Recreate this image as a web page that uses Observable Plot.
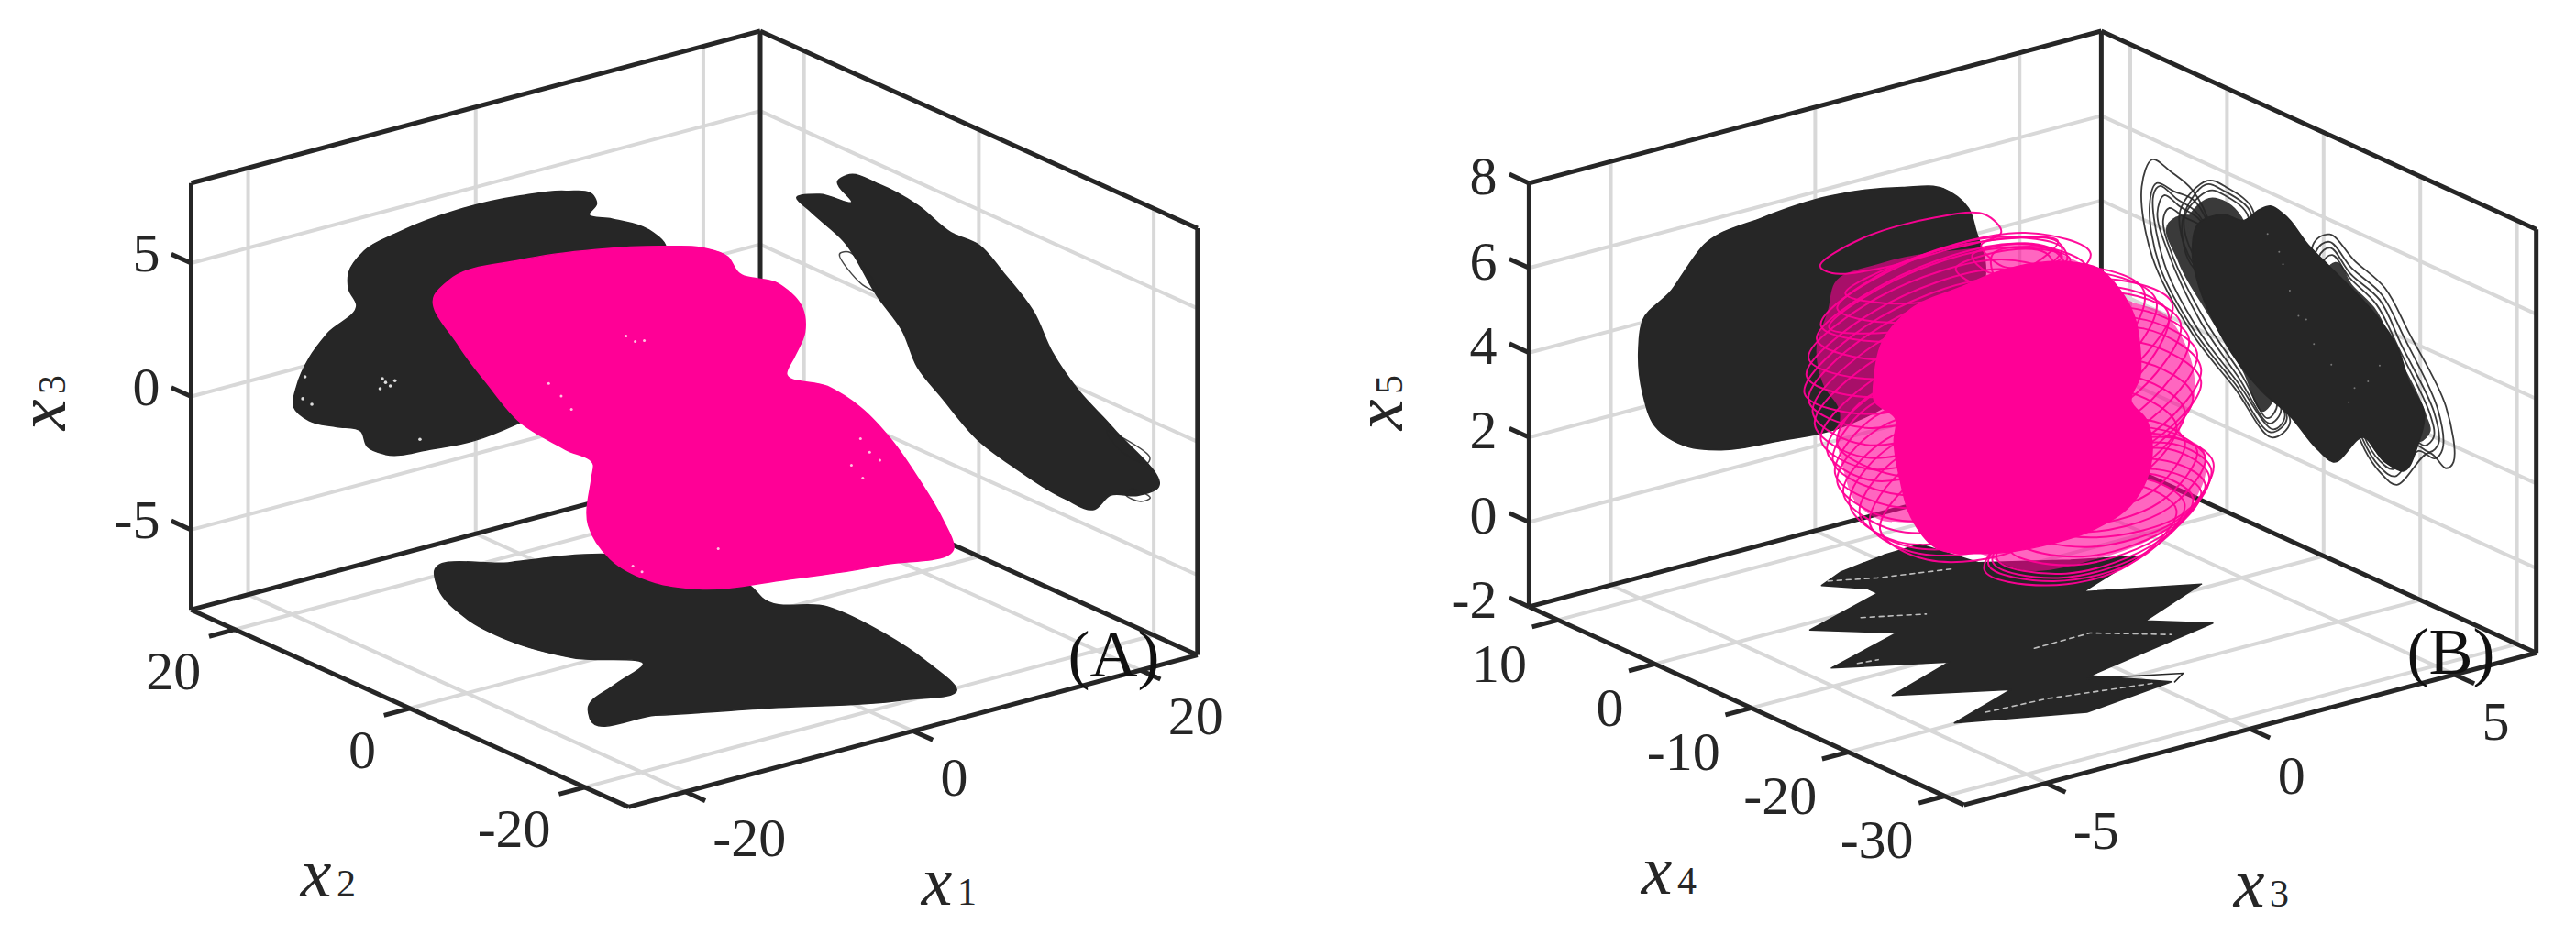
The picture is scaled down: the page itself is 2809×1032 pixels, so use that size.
<!DOCTYPE html>
<html>
<head>
<meta charset="utf-8">
<script src="https://cdn.jsdelivr.net/npm/d3@7"></script>
<script src="https://cdn.jsdelivr.net/npm/@observablehq/plot@0.6"></script>
<style>html,body{margin:0;padding:0;background:#fff}svg{display:block}</style>
</head>
<body>
<div id="chart"></div>
<script>
// ---------- tick values ----------
const ticksAx1 = [-20, 0, 20], ticksAx2 = [-20, 0, 20], ticksAx3 = [-5, 0, 5];
const ticksBx3 = [-5, 0, 5], ticksBx4 = [-30, -20, -10, 0, 10], ticksBx5 = [-2, 0, 2, 4, 6, 8];

// ---------- panel A projections onto the walls ----------
const aWallX1X3 = [[10.35,3.49],[10.62,3.17],[9.95,2.85],[11.96,2.44],[15.18,1.67],[16.66,.93],[16.52,.15],[15.8,-1.11],[8.6,-3.69],[3.63,-4.29],[-.13,-4.49],[-4.15,-4.37],[-7.92,-4.12],[-9.53,-3.64],[-10.07,-3.01],[-12.21,-2.59],[-14.63,-2.09],[-15.98,-1.42],[-15.71,-.65],[-14.63,.26],[-13.02,1],[-10.47,1.79],[-11.14,2.44],[-11.14,3.07],[-9.79,3.72],[-6.84,4.07],[-1.47,4.32],[3.9,4.22],[7.93,3.94]];
const aWallX2X3 = [[20.83,2.37],[18.2,2.88],[14.53,3.14],[16.11,3.7],[15.06,4.06],[11.21,4.26],[7.02,4.13],[3.17,3.67],[.02,3.68],[-2.77,3.06],[-6.27,2.09],[-8.37,.91],[-11.51,-.12],[-15.35,-.92],[-20.25,-2.49],[-18.15,-3.03],[-15.01,-3.49],[-13.25,-4.27],[-9.76,-4.38],[-4.17,-4.07],[.02,-3.66],[4.22,-2.67],[7.02,-1.94],[8.77,-.82],[11.56,.02],[15.4,1.52],[19.25,2.09]];
const aFloorX1X2 = [[-7.15,20.42],[-1.76,19.01],[4.7,16.18],[7.87,11.89],[8.62,4.44],[7.97,2.65],[10.47,-1.58],[10.32,-8.33],[9.26,-14.39],[7.43,-20.33],[3.1,-19.59],[-4.56,-15.53],[-12.29,-11.55],[-16.28,-9.25],[-15.27,-7.73],[-10.86,-5],[-6.85,-3.05],[-9.8,1.06],[-11.21,6.72],[-10.88,11.83],[-8.78,17.84]];
// silhouette of the trajectory, given in the plane x2 = 0
const aTrajX1X3 = [[-22.83,7.24],[-21.49,7.67],[-15.31,7.71],[-8.59,7.34],[-2.41,6.75],[.81,6.32],[2.95,5.74],[3.8,5.09],[7.4,4.23],[9.5,3.07],[9.7,2.14],[8.8,1.35],[8.1,.79],[11.7,-.11],[14.6,-1.23],[17.4,-2.81],[19.6,-4.41],[21.8,-6.24],[22.8,-7.38],[16.7,-7.36],[8.1,-6.94],[.2,-6.38],[-3.4,-5.74],[-7.4,-4.39],[-9.3,-2.92],[-9,-1.14],[-8.86,-.71],[-11.28,.14],[-15.31,1.63],[-18.26,3.45],[-20.68,5.11]];
const aWallStrays = [
  [[15.93,.98],[14.7,1.22],[11.56,.25],[13.31,.22]],
  [[-14.65,-1.14],[-19.55,-1.39],[-19.2,-1.67],[-16.05,-1.62]],
  [[-17.4,-2.9],[-19.6,-2.9],[-18.5,-3.2],[-16.8,-3.2]]
];
const aSpecksX1X3 = [[-7.92,-1.42],[-8.2,-1.25],[-7.5,-1.6],[-7.1,-1.45],[-8.4,-1.6],[-15,-.4],[-15.2,-1.2],[-14.4,-1.5],[-4.9,-3.9]];
const aTrajSpecks = [[14.6,-2.4],[15.4,-3],[16.3,-3.4],[13.8,-3.3],[14.8,-3.9],[-11.7,2.2],[-12.8,2.8],[-10.8,1.6],[-5.4,-4.9],[-4.6,-5.2],[2.1,-5.1],[-6,3.8],[-5.2,3.5],[-4.4,3.45]];

// ---------- panel B projections onto the walls ----------
const bWallX3X5 = [[2.13,5.56],[3.14,5.27],[3.75,4.65],[3.95,4.02],[4.15,3.33],[3.14,1.17],[1.53,.44],[.52,.27],[-.89,.35],[-2.3,.5],[-3.11,.78],[-3.92,1.48],[-4.22,2.34],[-4.32,3.37],[-4.22,4.05],[-3.51,4.58],[-3.11,5.05],[-2.71,5.45],[-1.29,5.72],[.32,5.81]];
const bWallCoreX4X5 = [[-3.36,5.49],[-4.47,5.69],[-5.89,5.64],[-8.42,5.18],[-10.63,4.9],[-13.17,4.59],[-15.69,4.21],[-17.59,3.75],[-18.86,3.02],[-20.43,2.46],[-19.81,1.68],[-18.22,.86],[-16.33,.88],[-14.12,1.23],[-10.95,.32],[-9.37,.45],[-6.53,.94],[-3.68,1.22],[-.83,1.72],[1.39,2.36],[2.96,3.06],[3.6,3.79],[2.96,4.5],[.44,4.98],[-1.78,5.07]];
const bWallSpecksX4X5 = [[-5.4,4.7],[-5.8,4.45],[-6.5,3.9],[-8.2,3.4],[-9,2.9],[-10.8,2.6],[-13.2,2.3],[-14.6,2.6],[-15.8,3.1],[-4.2,5],[-7.4,3.4],[-12.6,1.9]];
const bWallDense = [
  [[6,4.2],[5.3,4.4],[3.8,4.6],[2,4.2],[.2,3.5],[-1,2],[-4.9,1.2],[-3.9,.8],[-1.7,1.5],[2,2.5],[5,3.4]],
  [[4,4.5],[1.5,5.25],[.1,5.3],[-1.8,5],[-.3,3.7],[2.8,3.8]],
  [[-10.2,4.8],[-11.2,5.05],[-12.9,4.7],[-15.2,4.4],[-17.4,3.6],[-20.6,2.4],[-21,2.1],[-20,1.75],[-18.6,1.8],[-16.8,1.1],[-15.5,1.15],[-14.3,1.5]]
];
const bWallLoopsX4X5 = [
  [[8.82,4.76],[7.71,5.52],[5.81,5.43],[3.6,5.23],[1.7,4.56],[.44,2.46],[-6.53,.8],[-4.63,.24],[-.83,1],[3.6,1.84],[7.71,3.21]],
  [[8,4.4],[7.3,5],[5.4,5],[3.4,5],[1.4,4.3],[.2,2.4],[-6.2,.85],[-4.5,.35],[-.9,1.1],[3.3,1.9],[7,3.1]],
  [[7.6,4.7],[6.9,4.98],[5.2,4.85],[3.2,4.75],[1.2,4.1],[0,2.3],[-6,.9],[-4.8,.45],[-1,1.2],[3,2],[6.5,3.2]],
  [[7.2,4.3],[6.5,4.8],[4.8,4.7],[2.8,4.6],[.9,3.9],[-.4,2.2],[-5.6,1],[-4.4,.55],[-1.2,1.3],[2.7,2.2],[6.1,3.5]],
  [[6.6,4.2],[6,4.55],[4.4,4.5],[2.4,4.45],[.5,3.7],[-.8,2.1],[-5.2,1.1],[-4.2,.65],[-1.5,1.4],[2.3,2.3],[5.7,3.5]],
  [[4.86,4.59],[2.02,5.61],[.12,5.66],[-2.73,5.38],[-.83,3.31],[3.28,3.46]],
  [[4.6,4.4],[2.2,5.5],[.4,5.55],[-2.5,5.3],[-.9,3.6],[3.4,3.4]],
  [[4.4,4.5],[1.8,5.4],[.2,5.45],[-2.2,5.2],[-.6,3.5],[3,3.6]],
  [[-8.9,5.23],[-10.63,5.66],[-13.17,5.31],[-16.33,4.99],[-18.86,4.18],[-22.66,2.84],[-23.44,1.62],[-22.66,1.39],[-20.91,1.57],[-17.59,.47],[-16.01,.56],[-13.95,1.07]],
  [[-9.2,5.1],[-10.6,5.48],[-12.9,5.1],[-16,4.8],[-18.4,4],[-21.8,2.7],[-22.3,1.8],[-21.5,1.5],[-19.8,1.5],[-17.4,.65],[-15.9,.7],[-14,1.2]],
  [[-9.5,5],[-10.7,5.35],[-12.8,4.95],[-15.8,4.65],[-18.1,3.8],[-21.4,2.6],[-21.9,1.9],[-21,1.6],[-19.4,1.6],[-17.2,.8],[-15.8,.85],[-14.1,1.3]],
  [[-9.9,4.9],[-10.9,5.2],[-12.7,4.85],[-15.5,4.5],[-17.8,3.7],[-21,2.5],[-21.4,2],[-20.5,1.7],[-19,1.7],[-17,.95],[-15.7,1],[-14.2,1.4]]
];
const bFloorX3X4 = [[-1.76,4.9],[-1,6.12],[.23,6.89],[1.16,7.06],[1.44,2.2],[2.95,-.93],[4.17,-3.03],[2.08,-5.97],[4.16,-9.37],[2.05,-12.51],[3.01,-15.41],[-.67,-18.28],[.38,-22.26],[-1.96,-23.4],[-4.37,-19.88],[-2.36,-17.25],[-4.4,-13.57],[-2.38,-10.94],[-4.41,-7.31],[-2.21,-4.77],[-3.45,-1.03],[-1.16,1.67],[-1.16,2.7]];
const bFloorGaps = [
  [[-1.51,5.3],[-.64,3.87],[.83,2.3]],
  [[-2.24,-1.2],[-1.11,-3.18]],
  [[-.6,-12.21],[.78,-12.14],[1.99,-15.48]],
  [[-3.53,-19.53],[-2.11,-19.93],[.03,-21.74]],
  [[-3.85,-7.65],[-3.4,-7.9]]
];
const bFloorThin = [[-.82,-18.58],[.85,-21.48],[.43,-22.38]];
// trajectory in panel B, silhouette and loops, given in the plane x4 = -10
const bTrajCoreX3X5 = [[-.1,6.73],[.79,6.54],[1.47,6.22],[2.03,5.54],[2.36,4.88],[2.51,4.04],[2.51,3.39],[2.29,2.87],[2.66,2.34],[2.81,1.59],[2.66,.9],[2.29,.42],[1.39,.07],[.27,0],[-1.3,.19],[-2.5,.64],[-3.1,1.52],[-3.36,2.45],[-3.51,3.42],[-3.47,3.92],[-3.99,4.48],[-3.99,5.06],[-3.84,5.74],[-3.1,6.42],[-1.9,6.62],[-1,6.75]];
const bTrajMeshX3X5 = [[-4.97,7.51],[-3.84,7.69],[-1.45,7.44],[-.1,7.2],[.57,6.78],[1.39,6.17],[2.14,5.33],[3.15,4.67],[3.6,3.91],[3.82,2.48],[3.49,1.84],[4.08,1.22],[4.12,.74],[3.82,.1],[3.3,-.31],[1.39,-.65],[-.48,-.39],[-1.22,.09],[-3.1,1.37],[-3.84,1.63],[-4.48,2.26],[-4.74,3.02],[-4.89,3.71],[-4.85,4.49],[-5.23,5.16],[-5.41,6.08],[-5.12,6.94]];
const bTrajLoops = [
  [[-5.32,8.01],[-4.31,8.39],[-2.5,8.43],[-1.29,8.19],[-.89,7.66],[-2.3,7.59],[-3.91,7.58],[-5.02,7.76]],
  [[-1.38,7.49],[-.4,7.42],[.49,7.09],[.72,6.6],[-.1,6.66],[-.85,6.85]],
  [[-1.6,7.3],[-.5,7.3],[.3,7],[.6,6.7],[-.3,6.6],[-1.2,6.8]],
  [[-2,7.1],[-.7,7.2],[.2,6.9],[.4,6.5],[-.5,6.5],[-1.5,6.6]],
  [[-1.1,7.2],[-.2,7.15],[.45,6.85],[.65,6.5],[-.2,6.4],[-1,6.6]],
  [[1.3,6.6],[-.3,7.5],[-3.6,7.5],[-5.3,6.6],[-3.7,5.8],[-.4,5.7]],
  [[.8,6],[-.8,7],[-3.9,6.9],[-5.6,5.9],[-4,5],[-.8,5.1]],
  [[1,5.4],[-1,6.6],[-4.2,6.3],[-5.7,5.1],[-4.1,4.2],[-1,4.4]],
  [[.6,6.9],[-1.1,7.6],[-3.4,7.5],[-4.9,6.9],[-3.5,6.2],[-.9,6.2]],
  [[1.1,4.8],[-.9,6.1],[-4,5.8],[-5.5,4.6],[-4.2,3.5],[-1.1,3.6]],
  [[.5,4.1],[-1.2,5.2],[-4,5],[-5.3,3.9],[-4.1,2.9],[-1.3,3]],
  [[1.2,6.3],[-.5,7.3],[-3.7,7.2],[-5.4,6.3],[-3.8,5.4],[-.6,5.4]],
  [[.9,5.7],[-.9,6.8],[-4,6.6],[-5.65,5.5],[-4.1,4.6],[-.9,4.7]],
  [[1,5.1],[-.9,6.4],[-4.1,6.1],[-5.6,4.9],[-4.2,3.9],[-1,4]],
  [[.7,4.5],[-1.1,5.7],[-4.1,5.4],[-5.45,4.3],[-4.2,3.2],[-1.2,3.3]],
  [[.4,3.8],[-1.3,4.9],[-3.9,4.7],[-5.15,3.6],[-4,2.6],[-1.4,2.7]],
  [[.8,6.6],[-.9,7.3],[-3.5,7.2],[-5.1,6.5],[-3.6,6],[-.8,5.9]],
  [[.5,7.1],[-1.2,7.55],[-3.1,7.6],[-4.7,7.2],[-3.3,6.6],[-.8,6.5]],
  [[2.6,5.4],[.9,6.4],[-1.7,6.2],[-2.8,4.8],[-1,3.6],[1.6,3.8]],
  [[3.5,4.4],[2,5.5],[-.5,5.6],[-2,4.3],[-.4,2.8],[2.2,2.9]],
  [[4,3.2],[2.6,4.5],[0,4.7],[-1.6,3.3],[0,2],[2.6,1.9]],
  [[3.8,2.6],[2.4,3.8],[-.2,4],[-1.8,2.6],[.1,1.5],[2.5,1.5]],
  [[3.3,4.9],[1.7,5.9],[-.9,5.9],[-2.4,4.6],[-.6,3.2],[1.9,3.4]],
  [[2.9,5.1],[1.2,6.2],[-1.3,6.1],[-2.6,4.7],[-.8,3.4],[1.8,3.6]],
  [[3.2,4.7],[1.8,5.7],[-.7,5.75],[-2.2,4.4],[-.5,3],[2,3.1]],
  [[3.7,4],[2.2,5.1],[-.2,5.2],[-1.8,3.9],[-.2,2.5],[2.3,2.5]],
  [[3.9,3.6],[2.4,4.8],[-.1,4.9],[-1.7,3.6],[-.1,2.2],[2.5,2.2]],
  [[4,2.9],[2.5,4.2],[-.1,4.4],[-1.7,3],[0,1.8],[2.6,1.7]],
  [[3.6,2.3],[2.2,3.5],[-.3,3.7],[-1.9,2.4],[.1,1.2],[2.4,1.2]],
  [[3.4,2],[2,3.2],[-.4,3.3],[-2,2],[0,.9],[2.2,.9]],
  [[-.6,2.9],[-2,4.3],[-4.1,4.4],[-5,3.3],[-3.6,2.2],[-1.8,1.9]],
  [[-.2,2.3],[-1.8,3.7],[-3.9,3.8],[-4.9,2.8],[-3.6,1.6],[-1.5,1.3]],
  [[.2,1.6],[-1.4,3.2],[-3.6,3.3],[-4.6,2.2],[-3.4,1],[-1,.7]],
  [[.5,1.2],[-1,2.6],[-3.2,2.7],[-4.1,1.6],[-2.9,.6],[-.6,.3]],
  [[-.4,2.6],[-1.9,4],[-4,4.1],[-4.95,3],[-3.6,1.9],[-1.6,1.6]],
  [[0,1.9],[-1.6,3.4],[-3.7,3.5],[-4.75,2.5],[-3.5,1.3],[-1.2,1]],
  [[.3,1.4],[-1.2,2.9],[-3.4,3],[-4.35,1.9],[-3.1,.8],[-.8,.5]],
  [[.6,1],[-.8,2.3],[-2.9,2.4],[-3.85,1.4],[-2.7,.4],[-.4,.1]],
  [[-.9,3.4],[-2.2,4.6],[-4.2,4.6],[-4.9,3.7],[-3.7,2.7],[-2,2.3]],
  [[4.3,.9],[3.4,1.7],[1,1.9],[-.2,.7],[1.3,-.1],[3.6,-.1]],
  [[4.2,.6],[3.2,1.5],[1.2,1.6],[-.5,.3],[1.1,-.5],[3.4,-.3]],
  [[4,.3],[2.9,1.1],[.6,1.2],[-1,0],[.7,-.8],[3,-.6]],
  [[3.6,.1],[2.5,1],[.2,1],[-1.2,-.1],[.4,-.9],[2.5,-.9]],
  [[4.1,1.1],[3,1.9],[.8,2.1],[-.6,1],[1,.1],[3.2,.1]],
  [[4.25,.75],[3.3,1.6],[1.1,1.75],[-.3,.5],[1.2,-.3],[3.5,-.2]],
  [[4.1,.45],[3,1.3],[.9,1.4],[-.7,.15],[.9,-.65],[3.2,-.45]],
  [[3.8,.2],[2.7,1.05],[.4,1.1],[-1.1,-.05],[.5,-.85],[2.8,-.75]],
  [[3.4,0],[2.3,.9],[0,.9],[-1.3,-.2],[.2,-.95],[2.2,-1]],
  [[3.9,1.3],[2.8,2.1],[.6,2.3],[-.8,1.2],[.8,.3],[3,.3]],
  [[3.6,1.6],[2.5,2.4],[.3,2.6],[-1,1.5],[.5,.6],[2.8,.6]]
];

// ---------- views: how each box is drawn ----------
const panelA = {
  left:[208,664.7], ex:[12.41,-3.317], ey:[9.536,4.304], ez:-29.09,
  xr:[-25,25], yr:[-25,25], zr:[-8,8],
  xTicks:ticksAx1, yTicks:ticksAx2, zTicks:ticksAx3,
  tickOut:1.5, zLabel:[-34,-10], yLabel:[-37,46], xLabel:[30,51],
  name:"(A)", namePos:[1214,714],
  titles:[
    {l:"x",s:"3",p:[54,438],r:-90},
    {l:"x",s:"2",p:[358,961],r:0},
    {l:"x",s:"1",p:[1035,970],r:0}]
};
const panelB = {
  left:[1666.9,661.4], ex:[44.57,-11.85], ey:[10.54,4.805], ez:-46.2,
  xr:[-7,7], yr:[-32,13], zr:[-2,8],
  xTicks:ticksBx3, yTicks:ticksBx4, zTicks:ticksBx5,
  tickOut:1.5, zLabel:[-35,-7], yLabel:[-34,48], xLabel:[30,52],
  name:"(B)", namePos:[2672,711],
  titles:[
    {l:"x",s:"5",p:[1512,438],r:-90},
    {l:"x",s:"4",p:[1820,958],r:0},
    {l:"x",s:"3",p:[2466,972],r:0}]
};
function proj(v, x, y, z) {
  const u = x - v.xr[0], w = v.yr[1] - y, h = z - v.zr[0];
  return [v.left[0] + u*v.ex[0] + w*v.ey[0], v.left[1] + u*v.ex[1] + w*v.ey[1] + h*v.ez];
}
const seg = (v,a,b,k) => { const p=proj(v,...a), q=proj(v,...b); return {x1:p[0],y1:p[1],x2:q[0],y2:q[1],k}; };

function frameRows(v) {
  const [x0,x1]=v.xr,[y0,y1]=v.yr,[z0,z1]=v.zr, out=[];
  for (const t of v.xTicks) { out.push(seg(v,[t,y1,z0],[t,y1,z1],"grid")); out.push(seg(v,[t,y0,z0],[t,y1,z0],"grid")); out.push(seg(v,[t,y0,z0],[t,y0-v.tickOut*(y1-y0)/33,z0],"tick")); }
  for (const t of v.yTicks) { out.push(seg(v,[x1,t,z0],[x1,t,z1],"grid")); out.push(seg(v,[x0,t,z0],[x1,t,z0],"grid")); out.push(seg(v,[x0,t,z0],[x0-v.tickOut*(x1-x0)/33,t,z0],"tick")); }
  for (const t of v.zTicks) { out.push(seg(v,[x0,y1,t],[x1,y1,t],"grid")); out.push(seg(v,[x1,y0,t],[x1,y1,t],"grid")); out.push(seg(v,[x0,y1,t],[x0,y1+v.tickOut*(y1-y0)/33,t],"tick")); }
  [[[x0,y1,z0],[x0,y1,z1]],[[x0,y1,z1],[x1,y1,z1]],[[x1,y1,z0],[x1,y1,z1]],[[x1,y1,z1],[x1,y0,z1]],[[x1,y0,z0],[x1,y0,z1]],
   [[x0,y1,z0],[x1,y1,z0]],[[x1,y1,z0],[x1,y0,z0]],[[x0,y1,z0],[x0,y0,z0]],[[x0,y0,z0],[x1,y0,z0]]]
    .forEach(([a,b])=>out.push(seg(v,a,b,"box")));
  return out;
}
function labelRows(v) {
  const [x0,x1]=v.xr,[y0,y1]=v.yr,[z0]=v.zr, rows=[];
  v.xTicks.forEach(t=>{const p=proj(v,t,y0,z0);rows.push({x:p[0]+v.xLabel[0],y:p[1]+v.xLabel[1],t:String(t),a:"start"});});
  v.yTicks.forEach(t=>{const p=proj(v,x0,t,z0);rows.push({x:p[0]+v.yLabel[0],y:p[1]+v.yLabel[1],t:String(t),a:"end"});});
  v.zTicks.forEach(t=>{const p=proj(v,x0,y1,t);rows.push({x:p[0]+v.zLabel[0],y:p[1]+v.zLabel[1],t:String(t),a:"end"});});
  return rows;
}
let sid = 0;
function rows(v, pts, to3d) {
  const id = sid++;
  return pts.map(p => { const q = proj(v, ...to3d(p)); return {x:q[0], y:q[1], id}; });
}
const many = (v, loops, to3d) => loops.flatMap(l => rows(v, l, to3d));

const A = panelA, B = panelB;
const aOnX2 = p => [p[0], A.yr[1], p[1]];
const aOnX1 = p => [A.xr[1], p[0], p[1]];
const aOnFloor = p => [p[0], p[1], A.zr[0]];
const aTraj = p => [p[0], 0, p[1]];
const bOnX4 = p => [p[0], B.yr[1], p[1]];
const bOnX3 = p => [B.xr[1], p[0], p[1]];
const bOnFloor = p => [p[0], p[1], B.zr[0]];
const bTraj = p => [p[0], -10, p[1]];

const INK = "#262626", PINK = "#ff0096", GRID = "#d8d8d8";
const SERIF = "'Liberation Serif', serif";
const frames = [...frameRows(A), ...frameRows(B)];
const labels = [...labelRows(A), ...labelRows(B)];
const names = [A,B].map(v=>({x:v.namePos[0],y:v.namePos[1],t:v.name}));
const titles = [A,B].flatMap(v=>v.titles);

const solid = (data, fill, curve="catmull-rom-closed") => Plot.line(data,{x:"x",y:"y",z:"id",fill,stroke:fill,strokeWidth:1.5,curve,tension:1});
const thin = (data, stroke, w, op) => Plot.line(data,{x:"x",y:"y",z:"id",stroke,strokeWidth:w,strokeOpacity:op,curve:"catmull-rom-closed"});

const chart = Plot.plot({
  width:2809, height:1032, margin:0,
  x:{domain:[0,2809],range:[0,2809],axis:null},
  y:{domain:[0,1032],range:[0,1032],axis:null},
  style:{background:"#fff",fontFamily:SERIF,color:INK},
  marks:[
    Plot.link(frames.filter(d=>d.k==="grid"),{x1:"x1",y1:"y1",x2:"x2",y2:"y2",stroke:GRID,strokeWidth:4}),
    Plot.link(frames.filter(d=>d.k!=="grid"),{x1:"x1",y1:"y1",x2:"x2",y2:"y2",stroke:INK,strokeWidth:5}),
    solid(rows(A,aWallX1X3,aOnX2),INK),
    solid(rows(A,aWallX2X3,aOnX1),INK),
    solid(rows(A,aFloorX1X2,aOnFloor),INK),
    thin(many(A,aWallStrays,aOnX1),INK,1.5,.85),
    Plot.dot(rows(A,aSpecksX1X3,aOnX2),{x:"x",y:"y",r:1.8,fill:"#ddd"}),
    solid(rows(A,aTrajX1X3,aTraj),PINK),
    Plot.dot(rows(A,aTrajSpecks,aTraj),{x:"x",y:"y",r:1.5,fill:"#ffc0e2"}),
    solid(rows(B,bWallX3X5,bOnX4),INK),
    solid(many(B,bWallDense,bOnX3),"#3a3a3a"),
    thin(many(B,bWallLoopsX4X5,bOnX3),INK,1.8,.9),
    solid(rows(B,bWallCoreX4X5,bOnX3),INK),
    Plot.dot(rows(B,bWallSpecksX4X5,bOnX3),{x:"x",y:"y",r:1,fill:"#777"}),
    solid(rows(B,bFloorX3X4,bOnFloor),INK,"linear-closed"),
    Plot.line(many(B,bFloorGaps,bOnFloor),{x:"x",y:"y",z:"id",stroke:"#fff",strokeWidth:1.6,strokeOpacity:.7,strokeDasharray:"5 5"}),
    Plot.line(rows(B,bFloorThin,bOnFloor),{x:"x",y:"y",z:"id",stroke:INK,strokeWidth:1.5}),
    Plot.line(rows(B,bTrajMeshX3X5,bTraj),{x:"x",y:"y",z:"id",fill:PINK,fillOpacity:.6,stroke:"none",curve:"catmull-rom-closed",tension:1}),
    thin(many(B,bTrajLoops,bTraj),PINK,2,.95),
    solid(rows(B,bTrajCoreX3X5,bTraj),PINK),
    Plot.text(labels.filter(d=>d.a==="start"),{x:"x",y:"y",text:"t",textAnchor:"start",fontSize:60,fill:INK,fontFamily:SERIF}),
    Plot.text(labels.filter(d=>d.a==="end"),{x:"x",y:"y",text:"t",textAnchor:"end",fontSize:60,fill:INK,fontFamily:SERIF}),
    Plot.text(names,{x:"x",y:"y",text:"t",fontSize:72,fill:"#111",fontFamily:SERIF}),
    Plot.text(titles.filter(d=>d.r===0),{x:d=>d.p[0]-14,y:d=>d.p[1]-8,text:"l",fontSize:76,fontStyle:"italic",fill:INK,fontFamily:SERIF}),
    Plot.text(titles.filter(d=>d.r===0),{x:d=>d.p[0]+19,y:d=>d.p[1]+3,text:"s",fontSize:42,fill:INK,fontFamily:SERIF}),
    Plot.text(titles.filter(d=>d.r!==0),{x:d=>d.p[0]-8,y:d=>d.p[1]+14,text:"l",rotate:-90,fontSize:76,fontStyle:"italic",fill:INK,fontFamily:SERIF}),
    Plot.text(titles.filter(d=>d.r!==0),{x:d=>d.p[0]+3,y:d=>d.p[1]-19,text:"s",rotate:-90,fontSize:42,fill:INK,fontFamily:SERIF})
  ]
});
document.getElementById("chart").appendChild(chart);
</script>
</body>
</html>
